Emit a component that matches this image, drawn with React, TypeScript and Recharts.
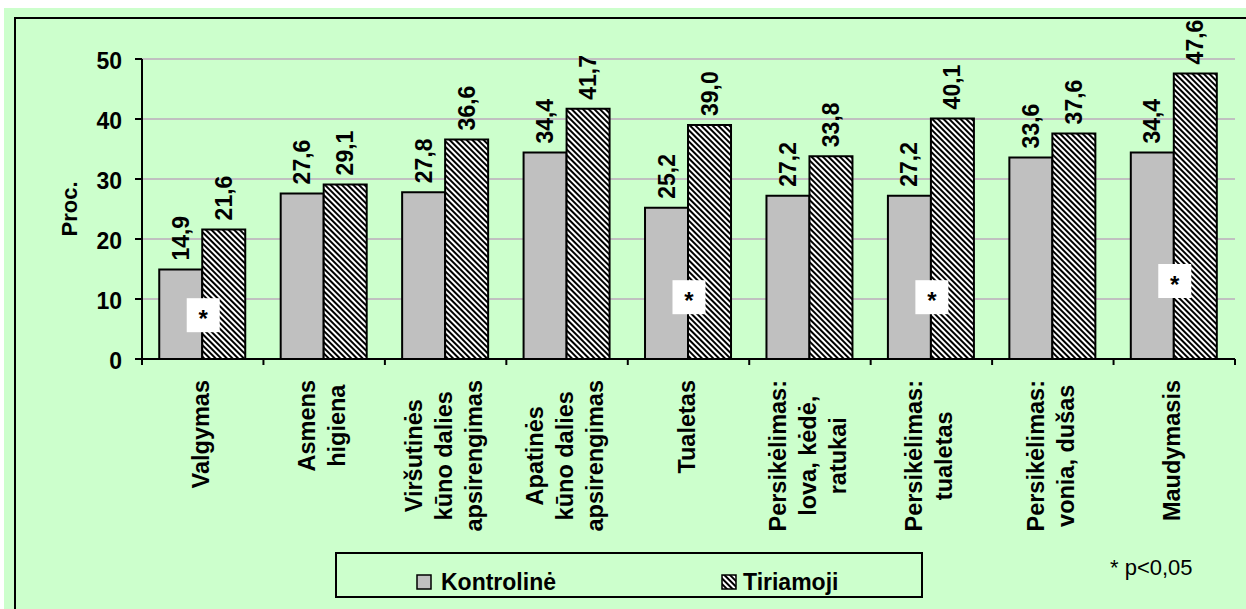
import React from "react";
import {
  Bar,
  BarChart,
  CartesianGrid,
  LabelList,
  Legend,
  ReferenceDot,
  XAxis,
  YAxis
} from "recharts";

const categories = [
  "Valgymas",
  "Asmens\nhigiena",
  "Viršutinės\nkūno dalies\napsirengimas",
  "Apatinės\nkūno dalies\napsirengimas",
  "Tualetas",
  "Persikėlimas:\nlova, kėdė,\nratukai",
  "Persikėlimas:\ntualetas",
  "Persikėlimas:\nvonia, dušas",
  "Maudymasis"
];
const kontroline = [14.9, 27.6, 27.8, 34.4, 25.2, 27.2, 27.2, 33.6, 34.4];
const tiriamoji = [21.6, 29.1, 36.6, 41.7, 39.0, 33.8, 40.1, 37.6, 47.6];
// where the "*" boxes sit, in axis units (null = not significant)
const starAt: Array<number | null> = [7.3, null, null, null, 10.3, null, 10.3, null, 13.0];
const yTicks = [0, 10, 20, 30, 40, 50];
const seriesNames = ["Kontrolinė", "Tiriamoji"];
const noteText = "* p<0,05";

const W = 1246;
const H = 609;
const MARGIN = { top: 59, right: 11, left: 82, bottom: 70 };
const Y_AXIS_W = 60;
const BAND = (W - MARGIN.left - MARGIN.right - Y_AXIS_W) / categories.length;
const FONT = "'Liberation Sans', Arial, sans-serif";
const CAT_FONT_SIZE = 23.5;
const LINE_PITCH = 30;
const GREEN = "#CCFFCC";
const GRAY = "#C0C0C0";

const data = categories.map((name, i) => ({
  name,
  kontroline: kontroline[i],
  tiriamoji: tiriamoji[i]
}));

let measureCtx: CanvasRenderingContext2D | null = null;
function textWidth(s: string) {
  if (!measureCtx && typeof document !== "undefined") {
    measureCtx = document.createElement("canvas").getContext("2d");
  }
  if (!measureCtx) return s.length * 13;
  measureCtx.font = `bold ${CAT_FONT_SIZE}px ${FONT}`;
  return measureCtx.measureText(s).width;
}

function CategoryTick(props: any) {
  const { x, y, payload } = props;
  const value = String(payload.value);
  const idx = categories.indexOf(value);
  const lines = value.split("\n");
  const maxW = Math.max(...lines.map(textWidth));
  const midY = y + 15 + maxW / 2;
  return (
    <g>
      <line x1={x - BAND / 2} x2={x - BAND / 2} y1={y - 6} y2={y} stroke="#000" strokeWidth={2} />
      {idx === categories.length - 1 && (
        <line x1={x + BAND / 2} x2={x + BAND / 2} y1={y - 6} y2={y} stroke="#000" strokeWidth={2} />
      )}
      {lines.map((line, i) => {
        const bx = x + (i - (lines.length - 1) / 2) * LINE_PITCH + 6;
        return (
          <text
            key={i}
            transform={`translate(${bx},${midY}) rotate(-90)`}
            textAnchor="middle"
            fontFamily={FONT}
            fontWeight={700}
            fontSize={CAT_FONT_SIZE}
            fill="#000"
          >
            {line}
          </text>
        );
      })}
    </g>
  );
}

function ValueLabel(props: any) {
  const { x, y, width, value } = props;
  if (value == null) return null;
  const bx = x + width / 2 + 8;
  const by = y - 9;
  return (
    <text
      transform={`translate(${bx},${by}) rotate(-90)`}
      textAnchor="start"
      fontFamily={FONT}
      fontWeight={700}
      fontSize={23}
      fill="#000"
    >
      {Number(value).toFixed(1).replace(".", ",")}
    </text>
  );
}

function StarBox(props: any) {
  const { cx, cy } = props;
  return (
    <g>
      <rect x={cx - 16} y={cy - 17} width={33} height={34} fill="#fff" />
      <text x={cx + 0.5} y={cy + 12} textAnchor="middle" fontFamily={FONT} fontWeight={700} fontSize={24} fill="#000">
        *
      </text>
    </g>
  );
}

function YLabel(props: any) {
  const vb = props.viewBox || {};
  const cx = (vb.x ?? 82) - 5;
  const cy = (vb.y ?? 59) + (vb.height ?? 300) / 2;
  return (
    <text
      transform={`translate(${cx},${cy}) rotate(-90)`}
      textAnchor="middle"
      fontFamily={FONT}
      fontWeight={700}
      fontSize={22}
      fill="#000"
    >
      Proc.
    </text>
  );
}

const legendIconX = [82, 387];
const legendTextX = [106, 408];

function LegendBox(props: any) {
  const payload = props.payload || [];
  return (
    <svg width={588} height={46} style={{ display: "block" }}>
      <defs>
        <pattern id="legendHatch" width={4} height={4} patternUnits="userSpaceOnUse" patternTransform="rotate(45)">
          <rect width={4} height={4} fill="#fff" />
          <rect width={4} height={2} fill="#000" />
        </pattern>
      </defs>
      <rect x={1} y={1} width={586} height={44} fill="none" stroke="#000" strokeWidth={2} />
      {payload.map((entry: any, i: number) => (
        <g key={i}>
          <rect
            x={legendIconX[i]}
            y={23}
            width={14}
            height={14}
            fill={i === 0 ? GRAY : "url(#legendHatch)"}
            stroke="#000"
            strokeWidth={1.5}
          />
          <text x={legendTextX[i]} y={38} fontFamily={FONT} fontWeight={700} fontSize={23} fill="#000">
            {entry.value}
          </text>
        </g>
      ))}
    </svg>
  );
}

export default function App() {
  return (
    <div style={{ position: "absolute", left: 0, top: 0, width: W, height: H, overflow: "hidden", background: "#fff" }}>
      <div style={{ position: "absolute", left: 4, top: 8, width: W, height: H, background: GREEN }} />
      <div
        style={{
          position: "absolute",
          left: 14,
          top: 17,
          width: W,
          height: H,
          borderLeft: "2px solid #000",
          borderTop: "2px solid #000"
        }}
      />
      <div style={{ position: "absolute", left: 0, top: 0 }}>
        <BarChart
          width={W}
          height={H}
          data={data}
          margin={MARGIN}
          barGap={0}
          barCategoryGap="14.2%"
        >
          <defs>
            <pattern id="hatch" width={4} height={4} patternUnits="userSpaceOnUse" patternTransform="rotate(45)">
              <rect width={4} height={4} fill="#fff" />
              <rect width={4} height={2} fill="#000" />
            </pattern>
          </defs>
          <CartesianGrid horizontal vertical={false} stroke={GRAY} strokeWidth={2} />
          <XAxis
            dataKey="name"
            interval={0}
            height={180}
            tickLine={false}
            tickSize={6}
            tickMargin={0}
            axisLine={{ stroke: "#000", strokeWidth: 2 }}
            tick={<CategoryTick />}
          />
          <YAxis
            width={Y_AXIS_W}
            domain={[0, 50]}
            ticks={yTicks}
            interval={0}
            tickSize={7}
            tickMargin={13}
            axisLine={{ stroke: "#000", strokeWidth: 2 }}
            tickLine={{ stroke: "#000", strokeWidth: 2 }}
            tick={{ fill: "#000", fontFamily: FONT, fontWeight: 700, fontSize: 23, dy: 1.5 }}
            label={(p: any) => <YLabel {...p} />}
          />
          <Legend
            layout="vertical"
            align="center"
            verticalAlign="middle"
            wrapperStyle={{ position: "absolute", left: 335, top: 552, width: 588, height: 46 }}
            content={(p: any) => <LegendBox {...p} />}
          />
          <Bar
            dataKey="kontroline"
            name={seriesNames[0]}
            fill={GRAY}
            stroke="#000"
            strokeWidth={2}
            isAnimationActive={false}
          >
            <LabelList dataKey="kontroline" content={(p: any) => <ValueLabel {...p} />} />
          </Bar>
          <Bar
            dataKey="tiriamoji"
            name={seriesNames[1]}
            fill="url(#hatch)"
            stroke="#000"
            strokeWidth={2}
            isAnimationActive={false}
          >
            <LabelList dataKey="tiriamoji" content={(p: any) => <ValueLabel {...p} />} />
          </Bar>
          {starAt.map((v, i) =>
            v == null ? null : (
              <ReferenceDot
                key={i}
                x={categories[i]}
                y={v}
                r={0}
                ifOverflow="visible"
                shape={(p: any) => <StarBox {...p} />}
              />
            )
          )}
        </BarChart>
      </div>
      <svg style={{ position: "absolute", left: 1100, top: 550 }} width={120} height={40}>
        <text x={10} y={25} fontFamily={FONT} fontSize={22} fill="#000">
          {noteText}
        </text>
      </svg>
    </div>
  );
}
